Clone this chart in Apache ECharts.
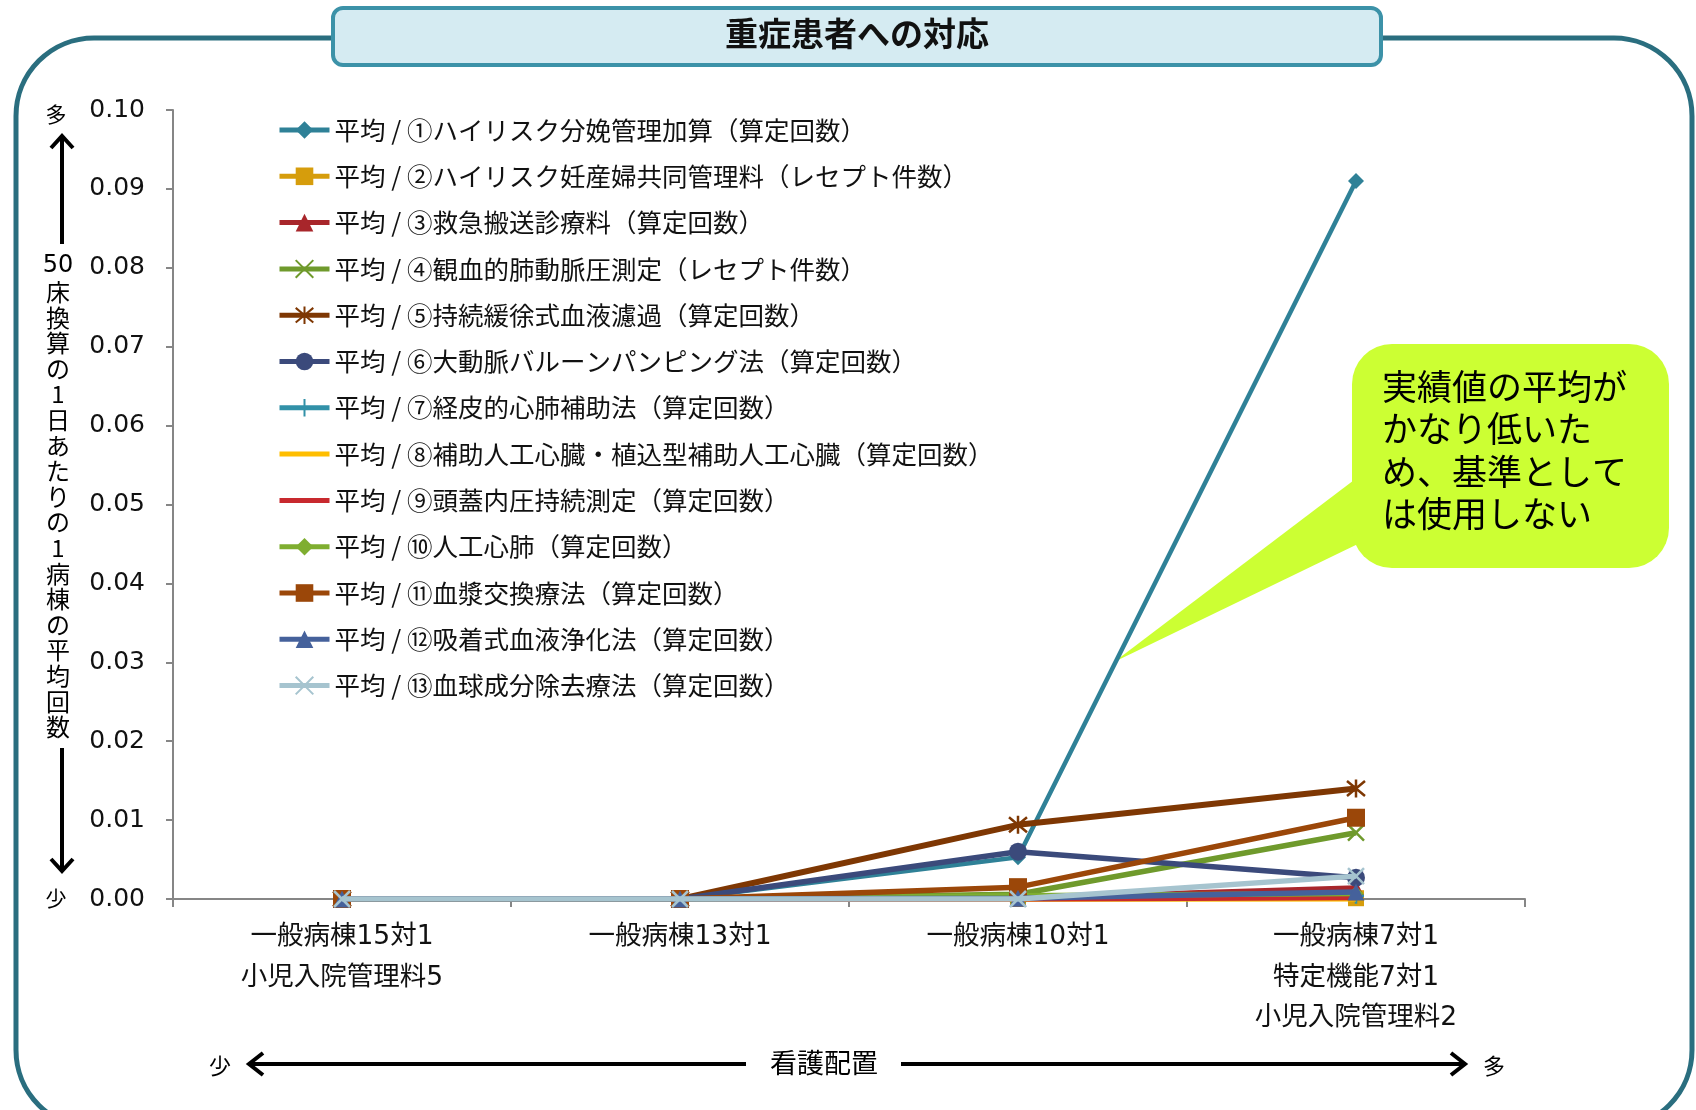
<!DOCTYPE html>
<html><head><meta charset="utf-8">
<script src="https://cdn.jsdelivr.net/npm/echarts@6/dist/echarts.min.js"></script>
<style>html,body{margin:0;padding:0;background:#fff}#c{width:1696px;height:1110px}</style>
</head><body><div id="c"></div>
<script>
const categories = ['一般病棟15対1\n小児入院管理料5', '一般病棟13対1', '一般病棟10対1', '一般病棟7対1\n特定機能7対1\n小児入院管理料2'];
const seriesNames = [
  '平均 / ①ハイリスク分娩管理加算（算定回数）',
  '平均 / ②ハイリスク妊産婦共同管理料（レセプト件数）',
  '平均 / ③救急搬送診療料（算定回数）',
  '平均 / ④観血的肺動脈圧測定（レセプト件数）',
  '平均 / ⑤持続緩徐式血液濾過（算定回数）',
  '平均 / ⑥大動脈バルーンパンピング法（算定回数）',
  '平均 / ⑦経皮的心肺補助法（算定回数）',
  '平均 / ⑧補助人工心臓・植込型補助人工心臓（算定回数）',
  '平均 / ⑨頭蓋内圧持続測定（算定回数）',
  '平均 / ⑩人工心肺（算定回数）',
  '平均 / ⑪血漿交換療法（算定回数）',
  '平均 / ⑫吸着式血液浄化法（算定回数）',
  '平均 / ⑬血球成分除去療法（算定回数）'
];
const v01 = [0, 0, 0.0053, 0.0910];
const v02 = [0, 0, 0, 0.0001];
const v03 = [0, 0, 0.0001, 0.0014];
const v04 = [0, 0, 0.0006, 0.0084];
const v05 = [0, 0, 0.0094, 0.0140];
const v06 = [0, 0, 0.0060, 0.0027];
const v07 = [0, 0, 0.0002, 0.0004];
const v08 = [0, 0, 0, 0];
const v09 = [0, 0, 0, 0.0002];
const v10 = [0, 0, 0.0004, 0.0007];
const v11 = [0, 0, 0.0015, 0.0103];
const v12 = [0, 0, 0.0001, 0.0009];
const v13 = [0, 0, 0, 0.0029];
const yTicks = ['0.00','0.01','0.02','0.03','0.04','0.05','0.06','0.07','0.08','0.09','0.10'];
const values = [v01,v02,v03,v04,v05,v06,v07,v08,v09,v10,v11,v12,v13];
const colors = ['#2F8197','#D69D0C','#A8262B','#6F9A2C','#7E3703','#3B4A7B','#3291A8','#FFBE00','#C8292E','#7FAE30','#9B4709','#45619B','#A6C4CF'];
const X = 'path://M0,0L10,10M10,0L0,10';
const STAR = 'path://M0,0L10,10M10,0L0,10M5,-1L5,11';
const PLUS = 'path://M5,0L5,10M0,5L10,5';
const symbols = ['diamond','rect','triangle',X,STAR,'circle',PLUS,'none','none','diamond','rect','triangle',X];
const sizes = [16,16,16,16,18,18,16,0,0,15,18,17,16];
const widths = [4.5,5.5,5.5,5.5,6,5.5,5.5,5.5,5.5,5.5,5.5,5.5,5.5];
const LINE_ICON = 'path://M0,0L0,0M0,8.5L50,8.5L50,13.5L0,13.5ZM50,22L50,22';

const chart = echarts.init(document.getElementById('c'));
const jp = '"Noto Sans CJK JP", sans-serif';
const num = '"DejaVu Sans", "Noto Sans CJK JP", sans-serif';

function arrowV(x, y1, y2, dir) {
  const h = dir > 0 ? 12 : -12;
  return [
    {type:'line', shape:{x1:x,y1:y1,x2:x,y2:y2}, style:{stroke:'#000',lineWidth:4}},
    {type:'polyline', shape:{points:[[x-11,y2-h],[x,y2],[x+11,y2-h]]}, style:{stroke:'#000',lineWidth:4,fill:null}}
  ];
}
function arrowH(x1, x2, y) {
  const w = x2 > x1 ? 14 : -14;
  return [
    {type:'line', shape:{x1:x1,y1:y,x2:x2,y2:y}, style:{stroke:'#000',lineWidth:4}},
    {type:'polyline', shape:{points:[[x2-w,y-11],[x2,y],[x2-w,y+11]]}, style:{stroke:'#000',lineWidth:4,fill:null}}
  ];
}

const yName = '床換算の1日あたりの1病棟の平均回数'.split('').join('\n');

const graphics = [
  {type:'rect', z:-5, shape:{x:16,y:38,width:1676,height:1090,r:78}, style:{fill:null,stroke:'#2A6E7F',lineWidth:5}},
  {type:'rect', z:10, shape:{x:333,y:8,width:1048,height:57,r:10}, style:{fill:'#D5EBF2',stroke:'#3C92A8',lineWidth:4}},
  {type:'text', z:11, x:857, y:33, style:{text:'重症患者への対応', font:'bold 33px "Noto Sans CJK JP"', fill:'#111', align:'center', verticalAlign:'middle'}},
  {type:'text', z:5, x:56, y:114, style:{text:'多', font:'21px "Noto Sans CJK JP"', fill:'#000', align:'center', verticalAlign:'middle'}},
  {type:'text', z:5, x:56, y:898, style:{text:'少', font:'21px "Noto Sans CJK JP"', fill:'#000', align:'center', verticalAlign:'middle'}},
  {type:'text', z:5, x:58, y:266, style:{text:'50', font:'24px "DejaVu Sans"', fill:'#000', align:'center', verticalAlign:'middle'}},
  {type:'text', z:5, x:58, y:279, style:{text:yName, font:'24px "Noto Sans CJK JP"', lineHeight:25.6, fill:'#000', align:'center', verticalAlign:'top'}},
  ...arrowV(62, 244, 136, -1),
  ...arrowV(62, 748, 871, 1),
  {type:'text', z:5, x:824, y:1063, style:{text:'看護配置', font:'27px "Noto Sans CJK JP"', fill:'#000', align:'center', verticalAlign:'middle'}},
  {type:'text', z:5, x:220, y:1066, style:{text:'少', font:'22px "Noto Sans CJK JP"', fill:'#000', align:'center', verticalAlign:'middle'}},
  {type:'text', z:5, x:1494, y:1066, style:{text:'多', font:'22px "Noto Sans CJK JP"', fill:'#000', align:'center', verticalAlign:'middle'}},
  ...arrowH(746, 249, 1064),
  ...arrowH(901, 1465, 1064),
  {type:'polygon', z:1, shape:{points:[[1114,662],[1362,474],[1362,542]]}, style:{fill:'#CCFF33'}},
  {type:'rect', z:1, shape:{x:1352,y:344,width:317,height:224,r:40}, style:{fill:'#CCFF33'}},
  {type:'text', z:2, x:1382, y:365, style:{text:'実績値の平均が\nかなり低いた\nめ、基準として\nは使用しない', font:'35px "Noto Sans CJK JP"', lineHeight:42.5, fill:'#000', align:'left', verticalAlign:'top'}}
];

chart.setOption({
  animation:false,
  backgroundColor:'#fff',
  grid:{left:173, right:171, top:110, bottom:211, containLabel:false},
  legend:{
    orient:'vertical', left:272, top:112, itemWidth:50, itemHeight:22, itemGap:20.3,
    lineStyle:{width:5},
    textStyle:{fontSize:25.5, lineHeight:26, color:'#111', fontFamily:jp},
    data: seriesNames.map((n,i)=> symbols[i]==='none' ? {name:n, icon:LINE_ICON} : {name:n})
  },
  xAxis:{
    type:'category', data:categories, boundaryGap:true,
    axisLine:{lineStyle:{color:'#868686', width:2}},
    axisTick:{show:true, length:8, lineStyle:{color:'#868686', width:2}},
    axisLabel:{fontSize:26.5, lineHeight:40.5, margin:18, color:'#111', fontFamily:num}
  },
  yAxis:{
    type:'value', min:0, max:0.1, interval:0.01,
    splitLine:{show:false},
    axisLine:{show:true, lineStyle:{color:'#868686', width:2}},
    axisTick:{show:true, length:7, lineStyle:{color:'#868686', width:2}},
    axisLabel:{fontSize:25, margin:28, color:'#111', fontFamily:num, formatter:(v)=>yTicks[Math.round(v*100)]}
  },
  graphic: graphics,
  series: seriesNames.map((n,i)=>({
    name:n, type:'line', data:values[i],
    symbol:symbols[i], symbolSize:sizes[i], showSymbol: symbols[i] !== 'none',
    lineStyle:{color:colors[i], width:widths[i]},
    itemStyle:{color:colors[i], borderColor:colors[i], borderWidth:(symbols[i]===X||symbols[i]===STAR||symbols[i]===PLUS)?2.5:0},
    z: 2 + i*0.01
  }))
});
</script></body></html>
